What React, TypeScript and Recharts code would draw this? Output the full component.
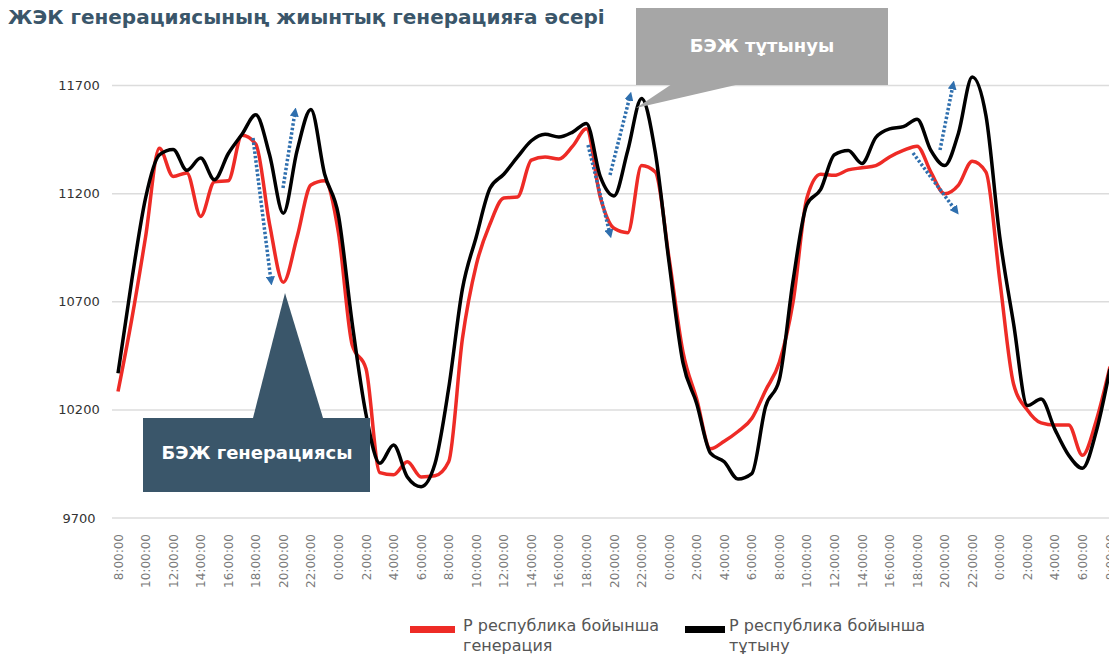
import { Legend, Line, LineChart, ReferenceLine, XAxis, YAxis } from 'recharts'

// hourly values, day 1 08:00 -> day 4 08:00
const generation = [
  10285, 10620, 11000, 11410, 11280, 11296, 11095, 11255, 11260, 11470,
  11430, 11060, 10790, 11000, 11240, 11260, 11020, 10500, 10390, 9910,
  9900, 9960, 9890, 9895, 9960, 10530, 10870, 11060, 11180, 11185,
  11355, 11370, 11360, 11420, 11500, 11185, 11040, 11020, 11330, 11300,
  10900, 10470, 10250, 10020, 10055, 10100, 10160, 10290, 10420, 10700,
  11180, 11290, 11285, 11310, 11320, 11330, 11370, 11400, 11420, 11300,
  11200, 11240, 11350, 11300, 10800, 10320, 10200, 10140, 10130, 10130,
  9990, 10150, 10400,
]
const consumption = [
  10370, 10800, 11180, 11380, 11405, 11308, 11365, 11265, 11385, 11475,
  11565, 11380, 11110, 11400, 11590, 11290, 11100, 10600, 10180, 9953,
  10038, 9890, 9845, 9950, 10300, 10760, 11000, 11225, 11290, 11370,
  11445, 11475, 11462, 11485, 11525, 11280, 11190, 11400, 11640, 11390,
  10880, 10420, 10230, 10000, 9960, 9880, 9905, 10215, 10340, 10800,
  11150, 11220, 11380, 11400, 11340, 11460, 11500, 11510, 11545, 11400,
  11330, 11480, 11740, 11560, 11000, 10600, 10220, 10250, 10110, 9990,
  9930, 10100, 10390,
]
const tickLabels = [
  '8:00:00', '10:00:00', '12:00:00', '14:00:00', '16:00:00', '18:00:00', '20:00:00', '22:00:00',
  '0:00:00', '2:00:00', '4:00:00', '6:00:00', '8:00:00', '10:00:00', '12:00:00', '14:00:00',
  '16:00:00', '18:00:00', '20:00:00', '22:00:00', '0:00:00', '2:00:00', '4:00:00', '6:00:00',
  '8:00:00', '10:00:00', '12:00:00', '14:00:00', '16:00:00', '18:00:00', '20:00:00', '22:00:00',
  '0:00:00', '2:00:00', '4:00:00', '6:00:00', '8:00:00',
]
const yTicks = [9700, 10200, 10700, 11200, 11700]

const data = generation.map((g, i) => ({ h: i, gen: g, cons: consumption[i] }))
const xTicks = tickLabels.map((_, i) => i * 2)

const FONT = '"DejaVu Sans", sans-serif'
const SLATE = '#3a566a'
const ARROW = '#2f6fae'

const YTick = ({ y, payload }: any) => (
  <text x={79} y={y} dy={4.5} textAnchor="middle" fill="#333" fontSize={13} fontFamily={FONT}>
    {payload.value}
  </text>
)

const XTick = ({ x, y, payload }: any) => (
  <text
    transform={`translate(${x + 4.5},${y + 8}) rotate(-90)`}
    textAnchor="end"
    fill="#7a7a7a"
    fontSize={12}
    fontFamily={FONT}
  >
    {tickLabels[payload.value / 2]}
  </text>
)

const legendItems = [
  { color: '#ee2b26', label: 'Р республика бойынша', label2: 'генерация', left: 410, sw: 45, tx: 463 },
  { color: '#000', label: 'Р республика бойынша', label2: 'тұтыну', left: 685, sw: 40, tx: 729 },
]

const LegendBox = () => (
  <div style={{ position: 'relative', width: 1109, height: 44, fontFamily: FONT, fontSize: 16, color: '#555' }}>
    {legendItems.map((it) => (
      <div key={it.left}>
        <div style={{ position: 'absolute', left: it.left, top: 14, width: it.sw, height: 7, background: it.color }} />
        <div style={{ position: 'absolute', left: it.tx, top: 4, lineHeight: '20px', whiteSpace: 'nowrap' }}>
          {it.label}
          <br />
          {it.label2}
        </div>
      </div>
    ))}
  </div>
)

// dotted annotation arrows [x1, y1, x2, y2], head at the second point
const arrows = [
  [253, 138, 271, 281],
  [283, 188, 295, 112],
  [588, 145, 610, 234],
  [610, 175, 630, 96],
  [940, 150, 953, 85],
  [913, 153, 956, 211],
]

export default function App() {
  return (
    <div style={{ position: 'absolute', left: 0, top: 0, width: 1109, height: 656, overflow: 'hidden', background: '#fff' }}>
      <div
        style={{
          position: 'absolute',
          left: 8,
          top: 5,
          fontFamily: FONT,
          fontWeight: 700,
          fontSize: 20,
          color: SLATE,
          whiteSpace: 'nowrap',
        }}
      >
        ЖЭК генерациясының жиынтық генерацияға әсері
      </div>
      <LineChart width={1125} height={656} data={data} margin={{ top: 64, right: 15, left: 0, bottom: 58 }}>
        {yTicks.map((v) => (
          <ReferenceLine key={v} y={v} stroke="#dcdcdc" strokeWidth={1.5} />
        ))}
        <XAxis
          type="number"
          dataKey="h"
          domain={[0, 72]}
          ticks={xTicks}
          interval={0}
          tick={XTick}
          axisLine={false}
          tickLine={false}
          padding={{ left: 6, right: 0 }}
          height={80}
        />
        <YAxis
          domain={[9700, 11800]}
          ticks={yTicks}
          interval={0}
          tick={YTick}
          axisLine={false}
          tickLine={false}
          width={112}
        />
        <Line type="monotone" dataKey="gen" stroke="#ee2b26" strokeWidth={3.5} dot={false} isAnimationActive={false} />
        <Line type="monotone" dataKey="cons" stroke="#000" strokeWidth={3.5} dot={false} isAnimationActive={false} />
        <Legend
          layout="horizontal"
          verticalAlign="middle"
          content={LegendBox}
          wrapperStyle={{ left: 0, top: 612, width: 1109, height: 44 }}
        />
      </LineChart>
      <svg width={1109} height={656} style={{ position: 'absolute', left: 0, top: 0, pointerEvents: 'none' }}>
        <defs>
          <marker id="head" viewBox="0 0 10 10" refX="5" refY="5" markerWidth="9" markerHeight="9" markerUnits="userSpaceOnUse" orient="auto">
            <path d="M0,0 L10,5 L0,10 z" fill={ARROW} />
          </marker>
        </defs>
        {arrows.map(([x1, y1, x2, y2], i) => (
          <line
            key={i}
            x1={x1}
            y1={y1}
            x2={x2}
            y2={y2}
            stroke={ARROW}
            strokeWidth={3.5}
            strokeDasharray="2.5 2"
            markerEnd="url(#head)"
          />
        ))}
        <polygon points="253,418 323,418 285,293" fill={SLATE} />
        <rect x={143} y={418} width={227} height={74} fill={SLATE} />
        <text x={257} y={459} textAnchor="middle" fill="#fff" fontFamily={FONT} fontWeight={700} fontSize={18}>
          БЭЖ генерациясы
        </text>
        <polygon points="672,84 740,84 636,108" fill="#a6a6a6" />
        <rect x={636} y={8} width={252} height={77} fill="#a6a6a6" />
        <text x={762} y={52} textAnchor="middle" fill="#fff" fontFamily={FONT} fontWeight={700} fontSize={18}>
          БЭЖ тұтынуы
        </text>
      </svg>
    </div>
  )
}
